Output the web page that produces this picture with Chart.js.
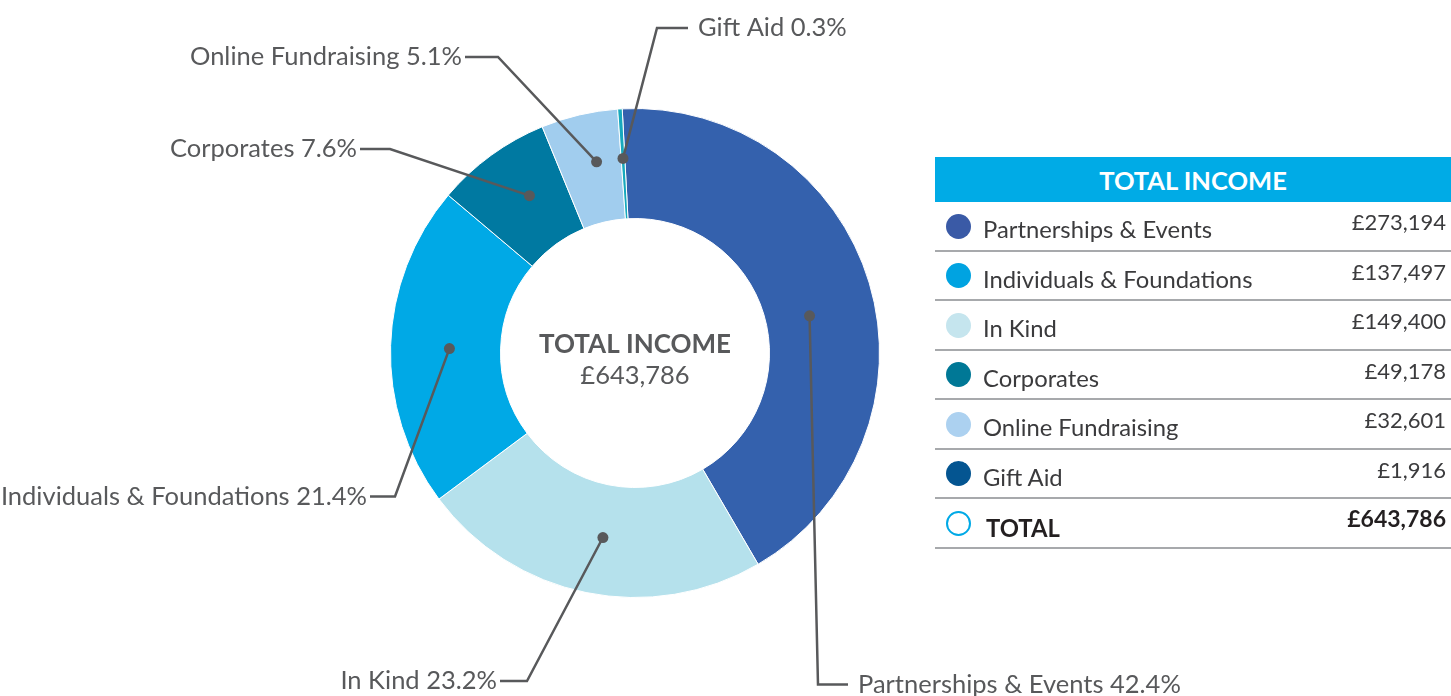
<!DOCTYPE html>
<html>
<head>
<meta charset="utf-8">
<script src="https://cdn.jsdelivr.net/npm/chart.js@4.4.1/dist/chart.umd.min.js"></script>
<style>
  html, body { margin: 0; padding: 0; background: #fff; }
  body { width: 1451px; height: 696px; position: relative; overflow: hidden; font-family: Lato, "Open Sans", sans-serif; }
  #wrap { position: absolute; left: 0; top: 0; width: 1451px; height: 696px; }
  #legend { position: absolute; left: 935px; top: 157px; width: 516px; color: #3b3b3d; }
  #legend .head { height: 45px; background: #00abe6; color: #fff; font-weight: 700; font-size: 25.5px; text-align: center; line-height: 47px; }
  #legend .row { position: relative; height: 49.5px; box-sizing: border-box; border-bottom: 2px solid #a7a9ac; }
  #legend .dot { position: absolute; left: 10.5px; top: 11.5px; width: 25px; height: 25px; border-radius: 50%; box-sizing: border-box; }
  #legend .lab { position: absolute; left: 48px; top: 15px; font-size: 23.8px; line-height: 24px; white-space: nowrap; }
  #legend .val { position: absolute; right: 5px; top: 9px; font-size: 22px; line-height: 22px; white-space: nowrap; }
  #legend .total .lab { font-weight: 700; color: #231f20; left: 51px; top: 17px; }
  #legend .total .val { font-weight: 700; color: #231f20; font-size: 23px; top: 8px; }
</style>
</head>
<body>
<div id="wrap"><canvas id="c" width="1451" height="696"></canvas></div>
<div id="legend"></div>
<script>
// ---- data ----
const categories = ['Partnerships & Events', 'In Kind', 'Individuals & Foundations', 'Corporates', 'Online Fundraising', 'Gift Aid'];
const amounts = [273194, 149400, 137497, 49178, 32601, 1916];
const sliceColors = ['#3461ad', '#b5e1ec', '#00a9e6', '#0079a1', '#a1cdee', '#17a9bd'];
const legendOrder = ['Partnerships & Events', 'Individuals & Foundations', 'In Kind', 'Corporates', 'Online Fundraising', 'Gift Aid'];
const legendColors = ['#3a5aa6', '#00a3e1', '#c5e5ee', '#007896', '#acd1f0', '#045591'];
const centerTitle = 'TOTAL INCOME';
const totalLabel = 'TOTAL';

// ---- label layout: anchor position inside slice (fraction of angle, fraction of ring width),
//      elbow offset from doughnut centre, horizontal run ----
const anchorAngleFrac = [0.53, 0.48, 0.495, 0.58, 0.6, 0.5];
const anchorRingFrac = [0.4, 0.48, 0.465, 0.5, 0.55, 0.55];
const labelLayout = [
  [183, 331.5, 30],
  [-108, 328, -27],
  [-240, 143.5, -25],
  [-245, -204, -30],
  [-137, -296, -33],
  [22, -325, 31]
];

const total = amounts.reduce((a, b) => a + b, 0);
const money = v => '£' + v.toLocaleString('en-GB');
const pct = v => (v / total * 100).toFixed(1) + '%';

const TEXT = '#58595b';
const FONT = 'Lato, "Open Sans", sans-serif';

const leaderPlugin = {
  id: 'leaders',
  afterDatasetsDraw(chart) {
    const ctx = chart.ctx;
    const meta = chart.getDatasetMeta(0);
    ctx.save();
    meta.data.forEach((arc, i) => {
      const p = arc.getProps(['x', 'y', 'startAngle', 'endAngle', 'innerRadius', 'outerRadius'], true);
      const ang = p.startAngle + (p.endAngle - p.startAngle) * anchorAngleFrac[i];
      const r = p.innerRadius + (p.outerRadius - p.innerRadius) * anchorRingFrac[i];
      const dx = p.x + Math.cos(ang) * r;
      const dy = p.y + Math.sin(ang) * r;
      const [ex, ey, run] = labelLayout[i];
      const elbowX = p.x + ex, elbowY = p.y + ey;
      const endX = elbowX + run;
      ctx.strokeStyle = TEXT;
      ctx.lineWidth = 2.5;
      ctx.lineJoin = 'miter';
      ctx.beginPath();
      ctx.moveTo(dx, dy);
      ctx.lineTo(elbowX, elbowY);
      ctx.lineTo(endX, elbowY);
      ctx.stroke();
      ctx.fillStyle = TEXT;
      ctx.beginPath();
      ctx.arc(dx, dy, 5.5, 0, Math.PI * 2);
      ctx.fill();
      ctx.font = '25.5px ' + FONT;
      ctx.textBaseline = 'middle';
      ctx.textAlign = run > 0 ? 'left' : 'right';
      const tx = endX + (run > 0 ? 10 : -3);
      ctx.fillText(categories[i] + ' ' + pct(amounts[i]), tx, elbowY);
    });
    // centre text
    const a0 = meta.data[0];
    ctx.textAlign = 'center';
    ctx.textBaseline = 'alphabetic';
    ctx.fillStyle = TEXT;
    ctx.font = 'bold 26px ' + FONT;
    ctx.fillText(centerTitle, a0.x, a0.y);
    ctx.font = '25.5px ' + FONT;
    ctx.fillText(money(total), a0.x, a0.y + 31);
    ctx.restore();
  }
};

new Chart(document.getElementById('c'), {
  type: 'doughnut',
  data: {
    labels: categories,
    datasets: [{
      data: amounts,
      backgroundColor: sliceColors,
      borderColor: '#ffffff',
      borderWidth: 1,
      hoverOffset: 0
    }]
  },
  options: {
    responsive: false,
    animation: false,
    cutout: '55%',
    rotation: -3,
    layout: { padding: { left: 390, top: 108, right: 571, bottom: 98 } },
    plugins: { legend: { display: false }, tooltip: { enabled: false } },
    events: []
  },
  plugins: [leaderPlugin]
});

// ---- legend table ----
const lg = document.getElementById('legend');
let html = '<div class="head">' + centerTitle + '</div>';
legendOrder.forEach((name, i) => {
  const v = amounts[categories.indexOf(name)];
  html += '<div class="row"><span class="dot" style="background:' + legendColors[i] + '"></span>' +
          '<span class="lab">' + name.replace('&', '&amp;') + '</span><span class="val">' + money(v) + '</span></div>';
});
html += '<div class="row total"><span class="dot" style="border:2.5px solid #00a9e6"></span>' +
        '<span class="lab">' + totalLabel + '</span><span class="val">' + money(total) + '</span></div>';
lg.innerHTML = html;
</script>
</body>
</html>
